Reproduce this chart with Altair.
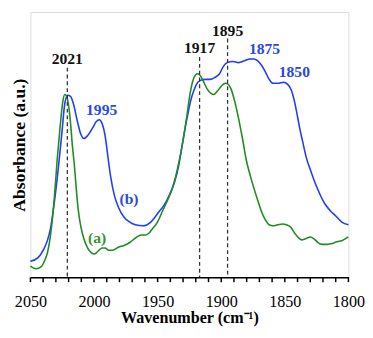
import altair as alt
import pandas as pd

# Spectrum (b) - blue
blue_wn = [2050.0, 2044.0, 2039.5, 2036.5, 2034.2, 2031.2, 2028.2, 2025.2, 2023.0, 2020.7,
           2018.5, 2016.2, 2013.2, 2010.2, 2008.0, 2005.0, 2001.2, 1998.2, 1995.9, 1993.7,
           1991.4, 1989.2, 1986.9, 1983.9, 1980.9, 1976.4, 1971.9, 1967.4, 1961.4, 1955.4,
           1949.4, 1944.9, 1940.4, 1936.6, 1933.6, 1931.4, 1928.4, 1926.1, 1923.9, 1921.6,
           1919.4, 1916.4, 1912.6, 1908.8, 1905.1, 1901.3, 1898.3, 1895.3, 1890.8, 1886.3,
           1881.8, 1877.3, 1874.3, 1871.3, 1868.3, 1865.3, 1862.3, 1859.3, 1855.5, 1851.0,
           1848.0, 1845.0, 1842.8, 1840.5, 1838.3, 1836.0, 1833.0, 1830.0, 1826.3, 1822.5,
           1818.8, 1814.3, 1809.7, 1805.2, 1800.0]
blue_abs = [0.060, 0.074, 0.106, 0.141, 0.184, 0.283, 0.406, 0.548, 0.654, 0.686,
            0.682, 0.654, 0.590, 0.537, 0.523, 0.534, 0.562, 0.587, 0.594, 0.580,
            0.537, 0.459, 0.378, 0.307, 0.265, 0.226, 0.208, 0.198, 0.194, 0.208,
            0.244, 0.272, 0.314, 0.360, 0.417, 0.477, 0.562, 0.618, 0.668, 0.703,
            0.728, 0.742, 0.746, 0.746, 0.753, 0.767, 0.795, 0.809, 0.813, 0.809,
            0.816, 0.823, 0.823, 0.816, 0.799, 0.774, 0.746, 0.731, 0.731, 0.735,
            0.728, 0.707, 0.671, 0.618, 0.562, 0.512, 0.449, 0.406, 0.357, 0.314,
            0.279, 0.251, 0.230, 0.208, 0.198]

# Spectrum (a) - green
green_wn = [2050.0, 2045.5, 2041.7, 2038.7, 2036.5, 2034.2, 2031.2, 2029.0, 2026.7, 2024.5,
            2023.0, 2021.5, 2020.0, 2018.5, 2017.0, 2015.5, 2014.0, 2012.5, 2010.2, 2008.0,
            2005.0, 2002.0, 1999.7, 1996.7, 1993.7, 1991.4, 1988.4, 1985.4, 1980.9, 1976.4,
            1971.9, 1967.4, 1962.9, 1959.9, 1956.9, 1953.9, 1950.1, 1946.4, 1942.6, 1938.9,
            1935.9, 1932.9, 1929.9, 1926.9, 1924.6, 1922.4, 1920.1, 1918.6, 1916.4, 1914.1,
            1911.1, 1908.1, 1905.8, 1902.8, 1899.8, 1896.8, 1894.6, 1892.3, 1889.3, 1886.3,
            1883.3, 1880.3, 1877.3, 1874.3, 1871.3, 1868.3, 1865.3, 1862.3, 1859.3, 1855.5,
            1851.8, 1848.8, 1845.0, 1842.8, 1839.8, 1836.8, 1833.8, 1830.0, 1827.0, 1824.0,
            1820.3, 1816.5, 1812.8, 1809.0, 1805.2, 1800.0]
green_abs = [0.042, 0.032, 0.039, 0.064, 0.095, 0.159, 0.300, 0.442, 0.565, 0.664,
             0.689, 0.682, 0.647, 0.583, 0.495, 0.424, 0.336, 0.258, 0.187, 0.145,
             0.110, 0.092, 0.088, 0.099, 0.110, 0.110, 0.102, 0.102, 0.113, 0.120,
             0.131, 0.148, 0.159, 0.159, 0.166, 0.184, 0.208, 0.247, 0.286, 0.329,
             0.378, 0.442, 0.519, 0.611, 0.689, 0.739, 0.763, 0.767, 0.760, 0.739,
             0.710, 0.693, 0.689, 0.703, 0.721, 0.731, 0.728, 0.710, 0.661, 0.597,
             0.523, 0.442, 0.385, 0.336, 0.290, 0.247, 0.216, 0.198, 0.194, 0.198,
             0.201, 0.198, 0.187, 0.170, 0.152, 0.141, 0.145, 0.152, 0.145, 0.131,
             0.124, 0.124, 0.127, 0.134, 0.138, 0.152]

# Dashed reference lines
ref_wn = [2021, 1917, 1895]
ref_top = [0.79, 0.83, 0.90]

# Axis tick values
tick_values = list(range(1800, 2051, 10))

# Labels
label_text = ["2021", "1917", "1895", "1995", "1875", "1850", "(b)", "(a)"]
label_wn = [2021, 1917, 1895, 1994, 1866, 1842.5, 1972.5, 1997.5]
label_abs = [0.823, 0.862, 0.928, 0.630, 0.859, 0.774, 0.294, 0.147]
label_color = ["#111111", "#111111", "#111111", "#2a48e8", "#2a48e8", "#2a48e8", "#2a48e8", "#2f962f"]

BLUE = "#1f3cff"
GREEN = "#1f8c1f"
FONT = "Liberation Serif"
W, H = 326, 272

df = pd.concat([
    pd.DataFrame({"wn": blue_wn, "abs": blue_abs, "series": "b"}),
    pd.DataFrame({"wn": green_wn, "abs": green_abs, "series": "a"}),
])
ref_df = pd.DataFrame({"wn": ref_wn, "top": ref_top})
lab_df = pd.DataFrame({"wn": label_wn, "abs": label_abs, "text": label_text, "color": label_color})
tick_df = pd.DataFrame({"wn": tick_values})

x_scale = alt.Scale(domain=[1800, 2050], reverse=True, nice=False, zero=False)
y_scale = alt.Scale(domain=[0, 1], nice=False, zero=False)

x_axis = alt.Axis(
    title="Wavenumber (cm⁻¹)",
    values=tick_values,
    labelExpr="datum.value % 50 === 0 ? datum.label : ''",
    format="d",
    grid=False,
    ticks=False,
    domain=True,
    domainColor="black",
    domainWidth=1.5,
    labelFont=FONT,
    labelFontSize=16.5,
    labelColor="black",
    labelPadding=17,
    labelFlush=False,
    labelOverlap=False,
    labelBound=False,
    titleFont=FONT,
    titleFontSize=16.5,
    titleFontWeight="bold",
    titleColor="black",
    titlePadding=0,
)
y_axis = alt.Axis(
    title="Absorbance (a.u.)",
    labels=False,
    ticks=False,
    grid=False,
    domain=False,
    titleFont=FONT,
    titleFontSize=18,
    titleFontWeight="bold",
    titleColor="black",
    titlePadding=2,
)

lines = alt.Chart(df).mark_line(strokeWidth=1.6, interpolate="monotone").encode(
    x=alt.X("wn:Q", scale=x_scale, axis=x_axis),
    y=alt.Y("abs:Q", scale=y_scale, axis=y_axis),
    color=alt.Color("series:N", scale=alt.Scale(domain=["b", "a"], range=[BLUE, GREEN]), legend=None),
    detail="series:N",
)

rules = alt.Chart(ref_df).mark_rule(strokeDash=[4, 3], color="#333333", strokeWidth=1.3).encode(
    x=alt.X("wn:Q", scale=x_scale, axis=x_axis),
    y=alt.Y("top:Q", scale=y_scale, axis=y_axis),
    y2=alt.datum(0),
)

# Outward tick marks under the x axis, every 10 cm-1
ticks = alt.Chart(tick_df).mark_rule(color="black", strokeWidth=1.5).encode(
    x=alt.X("wn:Q", scale=x_scale, axis=x_axis),
    y=alt.value(H),
    y2=alt.value(H + 5),
)

labels = alt.Chart(lab_df).mark_text(font=FONT, fontSize=16, fontWeight="bold", baseline="middle", align="center").encode(
    x=alt.X("wn:Q", scale=x_scale, axis=x_axis),
    y=alt.Y("abs:Q", scale=y_scale, axis=y_axis),
    text="text:N",
    color=alt.Color("color:N", scale=None),
)

chart = alt.layer(lines, rules, ticks, labels).properties(
    width=W, height=H, padding={"left": 3, "top": 0, "right": 0, "bottom": 0}
).configure_view(stroke="black", strokeWidth=1.5).configure(background="white")

chart.save("out.html", embed_options={"renderer": "svg", "actions": False})
